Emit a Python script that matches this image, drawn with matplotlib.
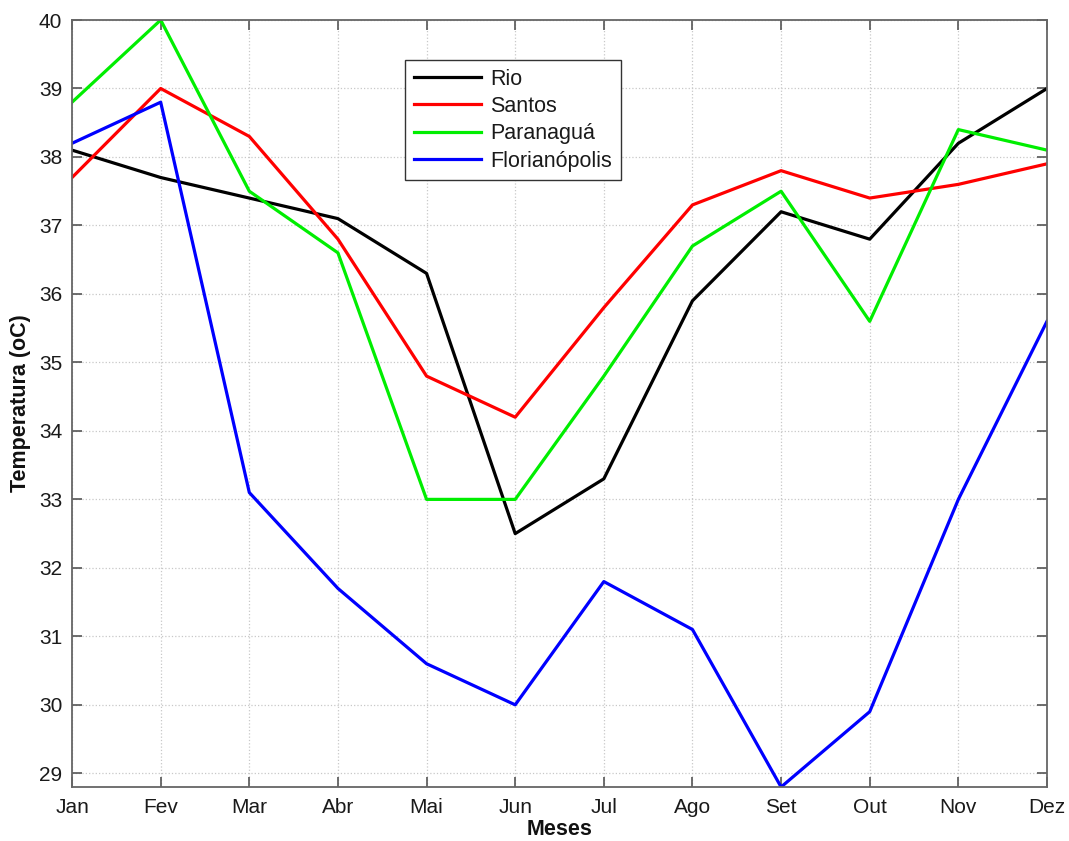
import matplotlib
matplotlib.use('Agg')
import matplotlib.pyplot as plt

plt.rcParams['font.family'] = ['Liberation Sans', 'DejaVu Sans']

meses = ['Jan', 'Fev', 'Mar', 'Abr', 'Mai', 'Jun', 'Jul', 'Ago', 'Set', 'Out', 'Nov', 'Dez']

rio = [38.1, 37.7, 37.4, 37.1, 36.3, 32.5, 33.3, 35.9, 37.2, 36.8, 38.2, 39.0]
santos = [37.7, 39.0, 38.3, 36.8, 34.8, 34.2, 35.8, 37.3, 37.8, 37.4, 37.6, 37.9]
paranagua = [38.8, 40.0, 37.5, 36.6, 33.0, 33.0, 34.8, 36.7, 37.5, 35.6, 38.4, 38.1]
florianopolis = [38.2, 38.8, 33.1, 31.7, 30.6, 30.0, 31.8, 31.1, 28.8, 29.9, 33.0, 35.6]

series = [
    ('Rio', rio, '#000000'),
    ('Santos', santos, '#ff0000'),
    ('Paranaguá', paranagua, '#00ee00'),
    ('Florianópolis', florianopolis, '#0000ff'),
]

fig = plt.figure(figsize=(10.69, 8.41), dpi=100)
ax = fig.add_axes([0.0674, 0.0642, 0.912, 0.912])

x = list(range(len(meses)))
for nome, valores, cor in series:
    ax.plot(x, valores, color=cor, linewidth=2.3, label=nome)

ax.set_xlim(0, 11)
ax.set_ylim(28.8, 40)
ax.set_xticks(x)
ax.set_xticklabels(meses)
ax.set_yticks(range(29, 41))

ax.grid(True, linestyle=':', color='#c8c8c8', linewidth=0.9)
ax.tick_params(direction='in', length=7, width=1.2, color='#555555',
               labelsize=15, labelcolor='#1a1a1a', top=True, right=True, pad=7)
ax.tick_params(axis='x', pad=8)
for s in ax.spines.values():
    s.set_color('#666666')
    s.set_linewidth(1.3)

ax.set_xlabel('Meses', fontsize=15.5, fontweight='bold', labelpad=1, color='#111111')
ax.set_ylabel('Temperatura (oC)', fontsize=15.5, fontweight='bold', labelpad=6, color='#111111')

leg = ax.legend(loc='upper left', bbox_to_anchor=(0.342, 0.948), fontsize=15.5,
                fancybox=False, framealpha=1, edgecolor='#333333',
                handlelength=3.1, borderpad=0.4, labelspacing=0.3,
                handletextpad=0.45, borderaxespad=0)
leg.get_frame().set_linewidth(1.0)
for t in leg.get_texts():
    t.set_color('#1a1a1a')

fig.savefig('out.png', dpi=100)
